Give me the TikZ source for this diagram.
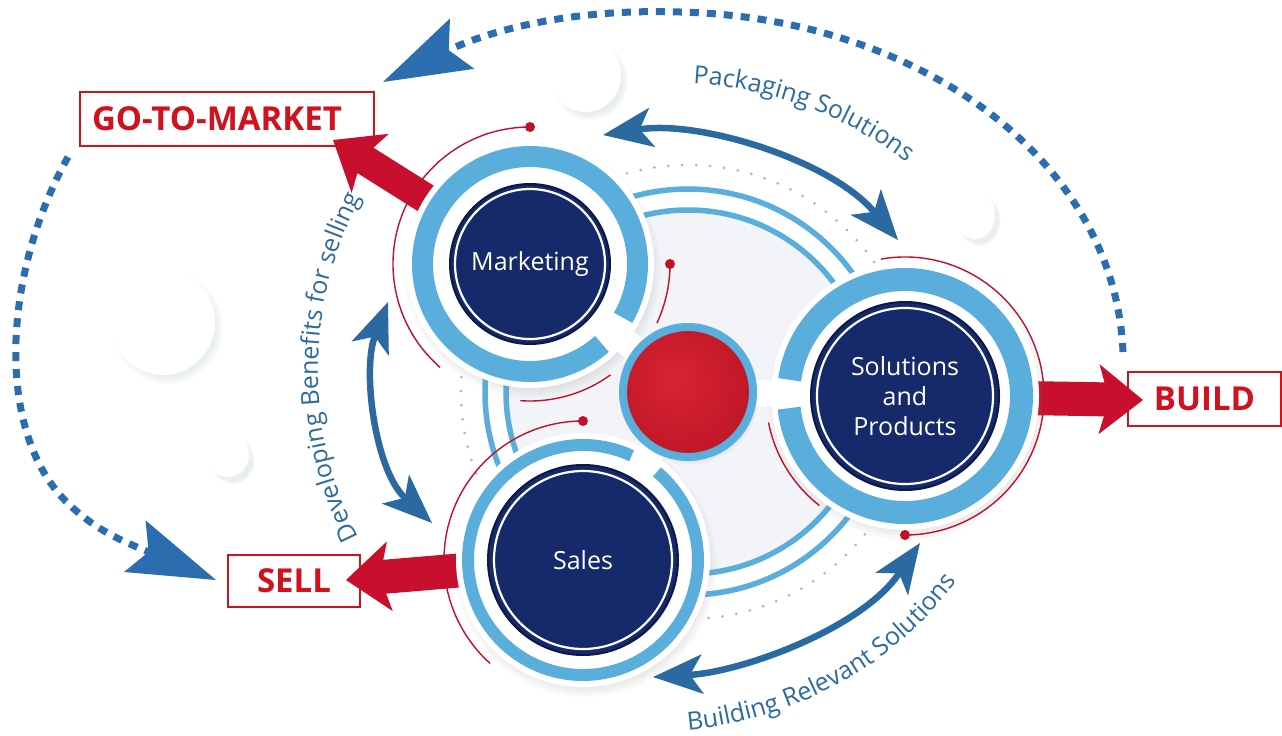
\documentclass[tikz,border=0pt]{standalone}
\usepackage{fontspec}
\setmainfont{Open Sans}
\usetikzlibrary{arrows.meta,decorations.text,shadows,calc}

\definecolor{navy}{HTML}{15296B}
\definecolor{navyedge}{HTML}{0B1848}
\definecolor{ringblue}{HTML}{5AAEDC}
\definecolor{arrowblue}{HTML}{2B6AA1}
\definecolor{textblue}{HTML}{2D6B9F}
\definecolor{dashblue}{HTML}{2C6DB0}
\definecolor{labelred}{HTML}{D0121F}
\definecolor{arrowred}{HTML}{C8102E}
\definecolor{thinred}{HTML}{C0102A}
\definecolor{hubgray}{HTML}{F2F4F7}
\definecolor{dotgray}{HTML}{B4B4B4}
\definecolor{bubrim}{HTML}{F3F7F8}
\definecolor{bubedge}{HTML}{E1ECEF}
\definecolor{bubshadow}{HTML}{9FB9C0}
\definecolor{redhi}{HTML}{D92433}
\definecolor{redlo}{HTML}{AC0C1E}

\pgfdeclareradialshading{bubble}{\pgfpoint{-4bp}{4bp}}{color(0bp)=(white); color(30bp)=(white); color(44bp)=(bubrim); color(50bp)=(bubedge)}
\pgfdeclareradialshading{hubred}{\pgfpoint{-6bp}{6bp}}{color(0bp)=(redhi); color(50bp)=(redlo)}

\newcommand\arcfont{\fontsize{25}{25}\selectfont}

\pgfdeclarelayer{bg}
\pgfdeclarelayer{arrows}
\pgfsetlayers{bg,arrows,main}

\begin{document}
\begin{tikzpicture}[x=1pt,y=-1pt,
  labelbox/.style={draw=labelred, line width=1.6pt, fill=white, text=labelred,
    font=\bfseries\fontsize{33}{33}\selectfont, inner sep=0pt,
    text height=23.5pt, text depth=0pt},
  navydisc/.style={circle, fill=navy, draw=navyedge, line width=2pt, text=white,
    font=\fontsize{25}{30}\selectfont, align=center, inner sep=0pt},
  redarrow/.style={draw=arrowred, -{Stealth[length=44pt,width=70pt,inset=10pt,line width=0pt 0]}},
  bluearc/.style={draw=arrowblue, line width=6.5pt,
    {Stealth[length=50pt,width=40pt,inset=13pt,line width=0pt 0]}-{Stealth[length=50pt,width=40pt,inset=13pt,line width=0pt 0]}},
  dasharc/.style={draw=dashblue, line width=7pt, dash pattern=on 9pt off 8pt,
    -{Stealth[length=88pt,width=56pt,inset=15pt,line width=0pt 0]}},
  thinarc/.style={draw=thinred, line width=1.4pt},
  reddot/.style={fill=thinred},
  discbase/.style={fill=white, circular drop shadow={shadow xshift=2pt, shadow yshift=-5pt, opacity=.3, shadow scale=1.04}},
  curvetext/.style={decorate, decoration={text along path, text color=textblue, text align=left}},
]
\useasboundingbox (0,0) rectangle (1282,736);

% centres of the hub and of the three discs
\coordinate (H)  at (688,392);
\coordinate (Mc) at (530,264);
\coordinate (Sc) at (583,560);
\coordinate (Pc) at (905,396);

\begin{pgfonlayer}{bg}
  \fill[white] (0,0) rectangle (1282,736);
  % floating bubbles
  \foreach \bx/\by/\rx/\ry in {585/75/36/37, 975/215/20/24, 163/322/52/53, 228/455/21/22}
    \shade[shading=bubble, circular drop shadow={shadow xshift=4pt, shadow yshift=-5pt, opacity=.22, shadow scale=1.08, fill=bubshadow}]
      (\bx,\by) ellipse [x radius=\rx, y radius=\ry];
  % hub background, guide rings and dotted orbit
  \fill[hubgray] (H) circle (180);
  \draw[ringblue, line width=5.5pt] (H) circle (182);
  \draw[ringblue, line width=5.5pt] (H) circle (203);
  \draw[dotgray, line width=3pt, line cap=round, dash pattern=on 0pt off 14pt] (H) circle (227);
  % outcome labels
  \node[labelbox, text width=270pt, inner xsep=12pt, align=left, minimum height=54pt] (gtm) at (227,119) {GO-TO-MARKET};
  \node[labelbox, minimum width=132pt, minimum height=52pt] (sell) at (294,581) {SELL};
  \node[labelbox, minimum width=153pt, minimum height=54pt] (build) at (1204.5,399) {BUILD};
\end{pgfonlayer}

% white bases of the three discs
\fill[discbase] (Mc) circle (124);
\fill[discbase] (Sc) circle (127);
\fill[discbase] (Pc) circle (134);

% necks joining the discs to the hub
\foreach \c in {Mc,Sc,Pc}
  \draw[white, line width=26pt] (H) -- (\c);

% light blue rings, open toward the hub
\draw[ringblue, line width=21pt] ($(Mc)+(48:107.5)$) arc[start angle=48, end angle=390, radius=107.5];
\draw[ringblue, line width=12pt] ($(Sc)+(-50:115)$) arc[start angle=-50, end angle=295, radius=115];
\draw[ringblue, line width=23pt] ($(Pc)+(-172:116.5)$) arc[start angle=-172, end angle=174, radius=116.5];

% navy discs
\node[navydisc, minimum size=160pt] (mkt) at (Mc) {Marketing};
\draw[white, line width=2.2pt] (mkt.center) circle (75);
\node[navydisc, minimum size=190pt] (sales) at (Sc) {Sales};
\draw[white, line width=2.2pt] (sales.center) circle (89);
\node[navydisc, minimum size=188pt] (sol) at (Pc) {Solutions\\and\\Products};
\draw[white, line width=2.2pt] (sol.center) circle (88);

% red hub
\node[circle, minimum size=130pt, shade, shading=hubred, draw=ringblue, line width=8pt,
  circular drop shadow={shadow xshift=2pt, shadow yshift=-4pt, opacity=.25, shadow scale=1.06}] (core) at (H) {};

% thin red orbit lines
\draw[thinarc] ($(Mc)+(-90:137)$) arc[start angle=-90, end angle=-229, radius=137];
\fill[reddot] ($(Mc)+(-90:137)$) circle (5);
\draw[thinarc] ($(Mc)+(0:140)$) arc[start angle=0, end angle=25, radius=140];
\fill[reddot] ($(Mc)+(0:140)$) circle (5);
\draw[thinarc] ($(Mc)+(54:137)$) arc[start angle=54, end angle=94, radius=137];
\draw[thinarc] ($(Sc)+(-90:139)$) arc[start angle=-90, end angle=-228, radius=139];
\fill[reddot] ($(Sc)+(-90:139)$) circle (5);
\draw[thinarc] ($(Pc)+(-100:139)$) arc[start angle=-100, end angle=90, radius=139];
\fill[reddot] ($(Pc)+(90:139)$) circle (5);
\draw[thinarc] ($(Pc)+(128:139)$) arc[start angle=128, end angle=169, radius=139];

% red outcome arrows, tucked under the discs
\coordinate (gtmtip) at (333,140);
\coordinate (selltip) at (346,580);
\coordinate (buildtip) at (1143,400);
\begin{pgfonlayer}{arrows}
  \draw[redarrow, line width=30pt] (mkt) -- (gtmtip);
  \draw[redarrow, line width=34pt] (sales) -- (selltip);
  \draw[redarrow, line width=34pt] (sol) -- (buildtip);
\end{pgfonlayer}

% blue two-way arrows between the discs
\coordinate (packL) at (603,135);
\coordinate (packR) at (898,240);
\draw[bluearc] (packL) .. controls (700,120) and (830,160) .. (packR);
\coordinate (devT) at (388,302);
\coordinate (devB) at (432,523);
\draw[bluearc] (devT) .. controls (362,370) and (375,470) .. (devB);
\coordinate (bldL) at (653,677);
\coordinate (bldR) at (920,543);
\draw[bluearc] (bldL) .. controls (740,672) and (860,630) .. (bldR);

% curved captions
\path[curvetext, decoration={text={|\arcfont|Packaging Solutions}}]
  ($(673,467)+(-87:384)$) arc[start angle=-87, end angle=-38, radius=384];
\path[curvetext, decoration={text={|\arcfont|Developing Benefits for selling}}]
  ($(686,370)+(153:368)$) arc[start angle=153, end angle=218, radius=368];
\path[curvetext, decoration={text={|\arcfont|Building Relevant Solutions}}]
  (688,730) .. controls (795,720) and (905,665) .. (975,556);

% dashed cycle arrows between the outcomes
\coordinate (dA) at (1123,352);
\coordinate (dB) at (383,82);
\draw[dasharc] (dA) .. controls (1115,160) and (920,18) .. (680,12) .. controls (560,8) and (480,35) .. (dB);
\coordinate (dC) at (68,157);
\coordinate (dD) at (216,580);
\draw[dasharc] (dC) .. controls (5,270) and (-5,420) .. (60,495) .. controls (90,528) and (120,540) .. (dD);
\end{tikzpicture}
\end{document}
